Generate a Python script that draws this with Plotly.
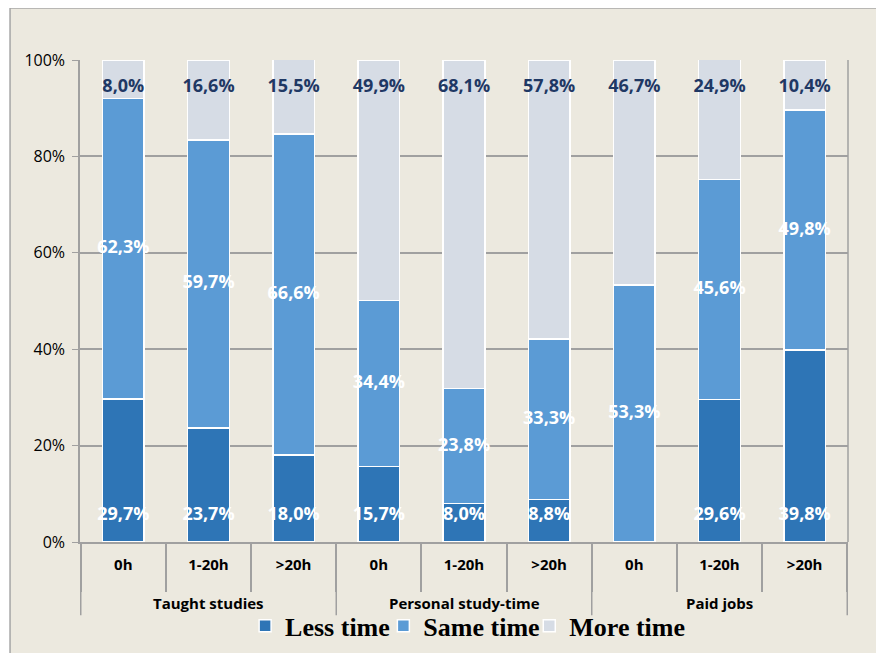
import plotly.graph_objects as go

# categories
group_names = ["Taught studies", "Personal study-time", "Paid jobs"]
groups = ["Taught studies"] * 3 + ["Personal study-time"] * 3 + ["Paid jobs"] * 3
hours = ["0h", "1-20h", ">20h"] * 3

# shares (%)
less_time = [29.7, 23.7, 18.0, 15.7, 8.0, 8.8, 0.0, 29.6, 39.8]
same_time = [62.3, 59.7, 66.6, 34.4, 23.8, 33.3, 53.3, 45.6, 49.8]
more_time = [8.0, 16.6, 15.5, 49.9, 68.1, 57.8, 46.7, 24.9, 10.4]

C_LESS = "#2E75B6"
C_SAME = "#5B9BD5"
C_MORE = "#D6DCE5"
NAVY = "#1F3864"
GRID = "#A0A0A0"

# unique category keys, shown with the hour label only
x = [f"{g}|{h}" for g, h in zip(groups, hours)]


def lab(v):
    return f"{v:.1f}".replace(".", ",") + "%"


fig = go.Figure()
series = [("Less time", less_time, C_LESS, "legend"),
          ("Same time", same_time, C_SAME, "legend2"),
          ("More time", more_time, C_MORE, "legend3")]
for name, vals, col, lg in series:
    fig.add_trace(go.Bar(
        x=x, y=vals, name=name, legend=lg,
        marker=dict(color=col, line=dict(color="white", width=1.5)),
        hoverinfo="skip",
    ))

# data labels
lbl_font = dict(family="Open Sans", size=18, color="white", weight="bold")
less_txt = [lab(v) if v > 0 else "" for v in less_time]
fig.add_trace(go.Scatter(
    x=x, y=[5.6] * len(less_time), mode="text", text=less_txt,
    textfont=lbl_font, showlegend=False, cliponaxis=False, hoverinfo="skip",
))
same_mid = [l + s / 2 for l, s in zip(less_time, same_time)]
fig.add_trace(go.Scatter(
    x=x, y=same_mid, mode="text", text=[lab(v) for v in same_time],
    textfont=lbl_font, showlegend=False, cliponaxis=False, hoverinfo="skip",
))
fig.add_trace(go.Scatter(
    x=x, y=[94.2] * len(more_time), mode="text", text=[lab(v) for v in more_time],
    textfont=dict(family="Open Sans", size=18, color=NAVY, weight="bold"),
    showlegend=False, cliponaxis=False, hoverinfo="skip",
))

# beige frame behind everything
fig.add_shape(type="rect", xref="paper", yref="paper",
              x0=-0.0911, x1=1.08, y0=-0.3, y1=1.108,
              fillcolor="#ECE9DF", line=dict(color="#A6A6A6", width=1.5),
              layer="below")

# group labels and group dividers
for i, g in enumerate(group_names):
    fig.add_annotation(x=x[i * 3 + 1], y=0, xref="x", yref="paper",
                       yshift=-61, yanchor="middle", text=g, showarrow=False,
                       font=dict(family="Open Sans", size=15, color="black", weight="bold"))
for b in [-0.5, 2.5, 5.5, 8.5]:
    fig.add_shape(type="line", xref="x", yref="paper", x0=b, x1=b,
                  y0=0, y1=-0.152, line=dict(color=GRID, width=1.5))

legend_style = dict(orientation="h", y=-0.174, yanchor="middle", xanchor="left",
                    font=dict(family="Liberation Serif", size=26, color="black", weight="bold"),
                    bgcolor="rgba(0,0,0,0)", itemwidth=30)

fig.update_layout(
    width=884, height=653,
    margin=dict(l=72, r=44, t=52, b=119, autoexpand=False),
    paper_bgcolor="white",
    plot_bgcolor="white",
    barmode="stack",
    bargap=0.51,
    font=dict(family="Open Sans", color="black"),
    showlegend=True,
    legend=dict(x=0.215, **legend_style),
    legend2=dict(x=0.395, **legend_style),
    legend3=dict(x=0.585, **legend_style),
)
fig.update_xaxes(
    type="category", automargin=False,
    tickvals=x, ticktext=hours,
    showline=True, linecolor=GRID, linewidth=1.5,
    tickson="boundaries", ticks="outside", ticklen=48, tickcolor=GRID, tickwidth=1.5,
    ticklabelstandoff=8,
    tickfont=dict(family="Open Sans", size=15, color="black", weight="bold"),
)
fig.update_yaxes(
    range=[0, 100], dtick=20, ticksuffix="%", automargin=False,
    showgrid=True, gridcolor=GRID, gridwidth=1.5,
    showline=True, linecolor=GRID, linewidth=1.5,
    ticks="outside", ticklen=6, tickcolor=GRID, ticklabelstandoff=4,
    tickfont=dict(family="Open Sans", size=16, color="black"),
    zeroline=False,
)
# plot area right border
fig.add_shape(type="line", xref="paper", yref="paper", x0=1, x1=1, y0=0, y1=1,
              line=dict(color=GRID, width=1.5))

fig.write_html("out.html")
